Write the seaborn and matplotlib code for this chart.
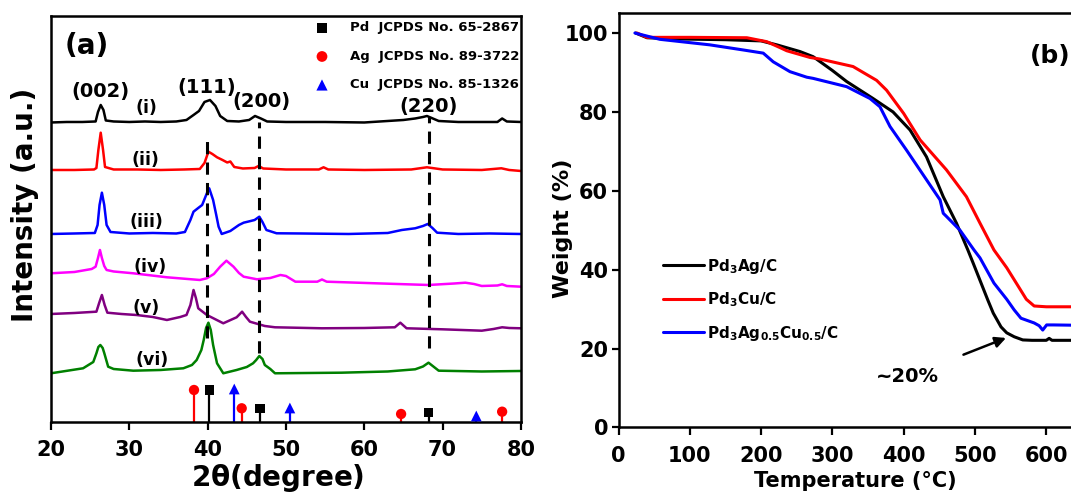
import matplotlib
matplotlib.use("Agg")
import matplotlib.pyplot as plt
import seaborn as sns

sns.set_style("ticks")
plt.rcParams.update({
    'font.family': ['DejaVu Sans'],
    'font.weight': 'bold',
    'axes.labelweight': 'bold',
    'mathtext.default': 'bf',
    'text.color': 'black',
    'axes.labelcolor': 'black',
    'axes.linewidth': 1.8,
    'xtick.major.width': 1.6,
    'ytick.major.width': 1.6,
    'xtick.major.size': 6,
    'ytick.major.size': 5,
    'xtick.direction': 'out',
    'ytick.direction': 'out',
    'xtick.color': 'black',
    'ytick.color': 'black',
    'axes.edgecolor': 'black',
})

# ---------------- (a) XRD, stacked patterns (intensity in a.u.) ----------------
tt_i = [20, 22, 24, 25.7, 26.0, 26.35, 26.7, 27.0, 28, 30, 32, 34, 36, 37.3, 38.2, 38.9, 39.6, 40.3,
        41.0, 41.6, 42.5, 44, 45.3, 46.05, 46.8, 47.6, 50, 55, 60, 63, 65, 66.5, 67.5, 68.0, 68.6,
        69.5, 72, 75, 77.0, 77.6, 78.2, 80]
int_i = [299.5, 300, 300, 300.5, 310, 317, 312, 301.5, 300.5, 300, 300.5, 300, 300.5, 302, 307, 311,
         320, 322, 316, 306, 301, 300.5, 302, 306, 303.5, 300.5, 300, 300, 299.5, 301, 302, 303.5,
         305, 306, 304, 301, 300, 300, 300, 303.5, 300.5, 300]

tt_ii = [20, 23, 25.5, 25.8, 26.05, 26.35, 26.65, 26.9, 28, 31, 34, 37, 39.0, 39.6, 40.1, 40.6, 41.2,
         41.9, 42.5, 42.9, 43.4, 44.5, 46.0, 46.5, 47.1, 50, 54.2, 54.8, 55.4, 60, 66, 68.0, 70, 75,
         77.5, 78.5, 80]
int_ii = [252, 252, 252.5, 254, 272, 289.3, 272, 255, 252.5, 252.5, 252, 252.5, 253, 259, 270.3, 268,
          264.7, 262, 259.5, 260.5, 255, 253.5, 254, 256, 253.5, 252.5, 252.5, 254.7, 252.5, 252,
          252.5, 254.7, 252.5, 252, 253.7, 252, 251]

tt_iii = [20, 23, 25.6, 25.95, 26.2, 26.5, 26.8, 27.1, 27.6, 30, 33, 36, 37.1, 37.8, 38.2, 38.8, 39.3,
          39.9, 40.2, 40.7, 41.1, 41.4, 41.8, 42.9, 44.0, 44.6, 45.5, 46.0, 46.6, 47.0, 47.5, 48.8,
          52, 58, 63, 64.8, 66.5, 67.5, 68.1, 68.7, 69.3, 72, 76, 80]
int_iii = [188, 188.5, 189, 197, 217, 229.3, 217, 197, 190, 188.5, 189, 188.5, 190, 202, 210.3, 214,
           217, 228.7, 233.7, 222, 207, 195.3, 188, 191, 197, 199.3, 201, 202, 205.3, 200, 192,
           188.7, 188.5, 188, 189, 192, 193.7, 196, 198, 194, 189.3, 188, 188.5, 188]

tt_iv = [20, 23, 25.2, 25.7, 26.0, 26.25, 26.5, 26.8, 27.1, 28, 30.5, 34.8, 39.0, 39.9, 40.8, 41.6,
         42.4, 43.3, 44.0, 44.6, 46.3, 48.0, 49.3, 50.0, 51.2, 54.0, 54.6, 55.2, 61.4, 68.2, 71.5,
         72.9, 74.0, 75, 77.0, 77.6, 78.2, 80]
int_iv = [148.7, 150, 153, 155.3, 164, 172, 164, 156, 152, 150.5, 148.7, 144.7, 142, 143.7, 148,
          155.3, 161.3, 155.3, 149, 145.3, 142.7, 144, 147, 146, 140.3, 140.3, 142.5, 140.3, 138.7,
          137, 138.5, 139.3, 138, 136, 136.5, 137.7, 136, 135.3]

tt_v = [20, 23, 25.8, 26.15, 26.5, 26.85, 27.2, 29, 30.9, 33, 34.8, 36.5, 37.3, 37.8, 38.2, 38.5, 38.8,
        39.9, 42.0, 43.7, 44.4, 44.9, 45.4, 47.3, 48.6, 54.6, 60, 63.9, 64.6, 65.4, 69.9, 75, 76.5,
        77.6, 78.5, 80]
int_v = [108, 109, 110.3, 119, 127, 117, 109.3, 108, 107, 105, 102, 105, 107, 117, 132, 124, 113.7,
         107, 98.7, 104.7, 110.3, 105, 100.3, 96, 94.7, 93.7, 94, 94.7, 99.3, 93.7, 92.7, 91.3, 93,
         94.7, 94, 93.7]

tt_vi = [20, 24.1, 25.4, 25.8, 26.05, 26.3, 26.6, 26.8, 27.3, 28, 30.5, 34, 36.9, 38.0, 38.6, 39.2,
         39.5, 39.8, 40.1, 40.4, 40.7, 41.2, 42.0, 43.7, 45.0, 45.8, 46.2, 46.6, 47.0, 47.3, 48.0,
         48.6, 57.1, 63, 66.5, 67.5, 68.2, 68.9, 69.5, 75, 80]
int_vi = [48.7, 53.7, 60, 68.7, 75, 77, 74, 69, 55.3, 53, 51.3, 52, 53.7, 57, 62, 72, 82, 94, 99.3,
          92, 77, 58.7, 48.7, 52, 55, 58.7, 62, 66, 63, 57, 53, 48.7, 49.3, 50.5, 52.7, 55.5, 59.3,
          55, 51.3, 50.5, 51]

xrd_names = ['(i)', '(ii)', '(iii)', '(iv)', '(v)', '(vi)']
xrd_colors = ['black', 'red', 'blue', '#ff00ff', '#800080', 'green']

# standard reference lines (JCPDS)
pd_pos = [40.2, 46.7, 68.2]
pd_h = [32, 13.7, 9.3]
ag_pos = [38.26, 44.35, 64.7, 77.6]
ag_h = [32, 13.7, 8, 10.3]
cu_pos = [43.4, 50.5, 74.3]
cu_h = [33, 14, 6]

hkl_labels = ['(002)', '(111)', '(200)', '(220)']
hkl_x = [26.35, 39.9, 46.9, 68.2]
hkl_y = [330, 334, 320, 315]
dash_x = [39.9, 46.5, 68.2]
dash_top = [287, 300, 305]
dash_bot = [84, 69, 74]

# ---------------- (b) TGA ----------------
T_ag = [24, 40, 80, 150, 200, 222, 254.5, 273, 300, 320, 357, 385, 409, 432, 455.5, 474, 490, 497.6,
        518, 525.6, 536.5, 544.5, 555, 567, 580, 600, 604, 608, 620, 650, 700]
W_ag = [100, 98.8, 98.5, 98.3, 98.0, 97, 95.3, 94, 90.5, 87.7, 83.4, 80, 75.4, 68.6, 58.5, 51.8, 45,
        41.6, 32.3, 29, 25.5, 24, 23, 22.2, 22.1, 22.1, 22.6, 22.1, 22.1, 22.1, 22.1]

T_cu = [26, 40, 100, 180, 208, 226.5, 236, 268.6, 282.6, 329, 362, 376, 400, 423, 460, 488, 507,
        526.6, 544.5, 560, 572, 583, 600, 650, 700]
W_cu = [100, 98.9, 98.9, 98.8, 97.8, 96.3, 95.5, 93.8, 93.4, 91.5, 88, 85.5, 79.6, 72.9, 65.3,
        58.5, 51.8, 45, 40.5, 36, 32.5, 30.8, 30.6, 30.6, 30.6]

T_agcu = [23, 58, 128, 175, 203, 217, 240.5, 264, 273, 320, 352.7, 366.7, 380.8, 404, 427.5, 451,
          455.5, 460, 479, 498.6, 507, 526.6, 544.5, 555, 564.5, 583, 590, 595, 600.5, 610, 650, 700]
W_agcu = [100, 98.4, 97, 95.7, 94.9, 92.7, 90.2, 88.8, 88.5, 86.4, 83.4, 81.3, 76.3, 70.3, 64, 57.7,
          54.3, 53.5, 50, 45, 43, 36.6, 32.5, 29.8, 27.7, 26.5, 25.8, 24.7, 26, 26, 25.9, 25.9]

tga_labels = [r'Pd$_3$Ag/C', r'Pd$_3$Cu/C', r'Pd$_3$Ag$_{0.5}$Cu$_{0.5}$/C']
tga_colors = ['black', 'red', 'blue']

fig = plt.figure(figsize=(10.71, 4.92), dpi=100)
ax1 = fig.add_axes([0.0476, 0.1423, 0.4388, 0.8242])
ax2 = fig.add_axes([0.5775, 0.1311, 0.466, 0.8419])

# ---- panel (a) ----
curves = [(tt_i, int_i), (tt_ii, int_ii), (tt_iii, int_iii), (tt_iv, int_iv), (tt_v, int_v), (tt_vi, int_vi)]
for (xx, yy), c in zip(curves, xrd_colors):
    sns.lineplot(x=xx, y=yy, ax=ax1, color=c, linewidth=1.8, estimator=None, sort=False, legend=False)

ax1.vlines(dash_x, dash_bot, dash_top, colors='black', linewidth=2.2, linestyles=(0, (4, 2.7)))

ax1.vlines(pd_pos, 0, pd_h, colors='black', linewidth=1.6)
ax1.vlines(ag_pos, 0, ag_h, colors='red', linewidth=1.6)
ax1.vlines(cu_pos, 0, cu_h, colors='blue', linewidth=1.6)
sns.scatterplot(x=pd_pos, y=pd_h, ax=ax1, marker='s', s=45, color='black', edgecolor='none', zorder=3)
sns.scatterplot(x=ag_pos, y=ag_h, ax=ax1, marker='o', s=55, color='red', edgecolor='none', zorder=3)
sns.scatterplot(x=cu_pos, y=cu_h, ax=ax1, marker='^', s=60, color='blue', edgecolor='none', zorder=3)

# legend for reference cards
leg_y = [394, 365.5, 337]
leg_txt = ['Pd  JCPDS No. 65-2867', 'Ag  JCPDS No. 89-3722', 'Cu  JCPDS No. 85-1326']
sns.scatterplot(x=[54.6], y=[leg_y[0]], ax=ax1, marker='s', s=50, color='black', edgecolor='none')
sns.scatterplot(x=[54.6], y=[leg_y[1]], ax=ax1, marker='o', s=60, color='red', edgecolor='none')
sns.scatterplot(x=[54.6], y=[leg_y[2]], ax=ax1, marker='^', s=65, color='blue', edgecolor='none')
for yy, t in zip(leg_y, leg_txt):
    ax1.text(58.2, yy, t, fontsize=9.5, fontweight='bold', va='center', ha='left')

for lab, xx, yy in zip(hkl_labels, hkl_x, hkl_y):
    ax1.text(xx, yy, lab, fontsize=14, fontweight='bold', ha='center', va='center')

name_x = [32.2, 32.0, 32.2, 32.6, 32.2, 32.9]
name_y = [313.7, 262, 200.3, 155.3, 113.7, 62]
for lab, xx, yy in zip(xrd_names, name_x, name_y):
    ax1.text(xx, yy, lab, fontsize=12.5, fontweight='bold', ha='center', va='center')

ax1.text(24.6, 376, '(a)', fontsize=20, fontweight='bold', ha='center', va='center')

ax1.set_xlim(20, 80)
ax1.set_ylim(0, 405.5)
ax1.set_xticks(range(20, 81, 10))
ax1.set_yticks([])
ax1.tick_params(axis='x', labelsize=15, pad=7)
for s in ax1.spines.values():
    s.set_visible(True)
    s.set_linewidth(1.8)

fig.text(0.0233, 0.583, 'Intensity (a.u.)', rotation=90, fontsize=20, fontweight='bold',
         ha='center', va='center')
fig.text(0.2596, 0.0285, r'2$\theta$(degree)', fontsize=20, fontweight='bold', ha='center', va='center')

# ---- panel (b) ----
tga = [(T_ag, W_ag), (T_cu, W_cu), (T_agcu, W_agcu)]
for (xx, yy), c, lab in zip(tga, tga_colors, tga_labels):
    sns.lineplot(x=xx, y=yy, ax=ax2, color=c, linewidth=2.2, estimator=None, sort=False, label=lab)

ax2.set_xlim(0, 700)
ax2.set_ylim(0, 105)
ax2.set_xticks(range(0, 701, 100))
ax2.set_yticks(range(0, 101, 20))
ax2.tick_params(axis='x', labelsize=15, pad=7)
ax2.tick_params(axis='y', labelsize=15, pad=2.5)
ax2.set_xlabel('')
ax2.set_ylabel('')
for s in ax2.spines.values():
    s.set_visible(True)
    s.set_linewidth(1.8)

leg = ax2.legend(loc='upper left', bbox_to_anchor=(0.089, 0.412), frameon=False, fontsize=11,
                 handlelength=2.7, handletextpad=0.2, labelspacing=0.95, borderpad=0, borderaxespad=0)
for h in leg.get_lines():
    h.set_linewidth(2.2)

ax2.annotate('~20%', xy=(543.5, 22.7), xytext=(405.6, 12.9), fontsize=14, fontweight='bold',
             ha='center', va='center',
             arrowprops=dict(arrowstyle='-|>', color='black', lw=1.8, mutation_scale=16,
                             shrinkA=18, shrinkB=0))
ax2.text(605, 94.2, '(b)', fontsize=18, fontweight='bold', ha='center', va='center')

fig.text(0.5257, 0.5366, 'Weight (%)', rotation=90, fontsize=16, fontweight='bold',
         ha='center', va='center')
fig.text(0.799, 0.0224, 'Temperature (°C)', fontsize=15, fontweight='bold', ha='center', va='center')

fig.savefig('out.png', dpi=100)
